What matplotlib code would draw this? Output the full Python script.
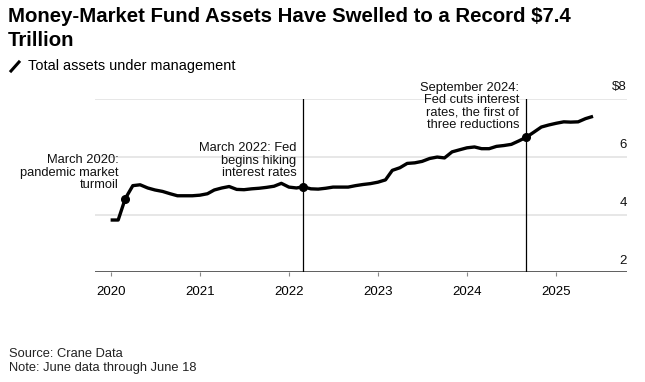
import pandas as pd
import matplotlib.pyplot as plt
from matplotlib.lines import Line2D
import matplotlib.transforms as mtransforms

plt.rcParams['font.family'] = ['Liberation Sans', 'DejaVu Sans']

# monthly money-market fund assets, $ trillion (Jan 2020 - Jun 2025)
months = pd.date_range('2020-01-01', '2025-06-01', freq='MS')
assets = [
    3.81, 3.81, 4.55, 5.00, 5.03, 4.92, 4.85, 4.80, 4.72, 4.65, 4.65, 4.65,
    4.67, 4.72, 4.85, 4.92, 4.97, 4.87, 4.86, 4.89, 4.91, 4.94, 4.98, 5.08,
    4.95, 4.92, 4.96, 4.89, 4.88, 4.91, 4.95, 4.95, 4.95, 5.00, 5.04, 5.07,
    5.12, 5.20, 5.53, 5.62, 5.77, 5.79, 5.84, 5.94, 5.99, 5.96, 6.17, 6.24,
    6.31, 6.34, 6.28, 6.28, 6.36, 6.39, 6.43, 6.55, 6.68, 6.85, 7.03, 7.10,
    7.16, 7.21, 7.20, 7.21, 7.32, 7.40,
]
s = pd.Series(assets, index=months)

events = ['2020-03-01', '2022-03-01', '2024-09-01']
event_labels = [
    'March 2020:\npandemic market\nturmoil',
    'March 2022: Fed\nbegins hiking\ninterest rates',
    'September 2024:\nFed cuts interest\nrates, the first of\nthree reductions',
]
event_lines = [False, True, True]

yticks = [2, 4, 6, 8]
ytick_labels = ['2', '4', '6', '$8']
xyears = [2020, 2021, 2022, 2023, 2024, 2025]

fig = plt.figure(figsize=(6.45, 3.82), dpi=100)
ax = fig.add_axes([0.1473, 0.2872, 0.8247, 0.4536])

ax.set_ylim(2, 8)
ax.set_xlim(pd.Timestamp('2019-10-29'), pd.Timestamp('2025-10-18'))

# gridlines
for v in yticks[1:]:
    ax.axhline(v, color='#e0e0e0', lw=1.1, zorder=0)
ax.axhline(2, color='#333333', lw=1.1, zorder=1)

for sp in ax.spines.values():
    sp.set_visible(False)
ax.set_yticks([])

ax.set_xticks([pd.Timestamp(f'{y}-01-01') for y in xyears])
ax.set_xticklabels([str(y) for y in xyears], fontsize=9.5)
ax.tick_params(axis='x', length=3, color='#888888', pad=7, width=0.8)

ax.plot(s.index, s.values, color='black', lw=2.4, zorder=3, solid_capstyle='butt')

offsets = [(-4.8, 5.5), (-5, 5.5), (-5.2, 4.5)]
for d, lab, vline, off in zip(events, event_labels, event_lines, offsets):
    t = pd.Timestamp(d)
    v = s[t]
    if vline:
        ax.axvline(t, color='black', lw=0.9, zorder=2)
    ax.plot([t], [v], 'o', color='black', ms=5.5, zorder=4)
    ax.annotate(lab, xy=(t, v), xytext=off, textcoords='offset points',
                ha='right', va='bottom', fontsize=9.3, linespacing=1.05,
                color='#111111', annotation_clip=False)

# right-side value labels sitting above gridlines
trans = mtransforms.blended_transform_factory(ax.transAxes, ax.transData)
for v, lab in zip(yticks, ytick_labels):
    ax.text(1.0, v, lab, transform=trans + mtransforms.ScaledTranslation(0, 4 / 72, fig.dpi_scale_trans),
            ha='right', va='bottom', fontsize=9.5, color='#111111', clip_on=False)

fig.text(0.0124, 1 - 21.7 / 382, 'Money-Market Fund Assets Have Swelled to a Record $7.4',
         fontsize=14.7, fontweight='bold', va='baseline', ha='left')
fig.text(0.0124, 1 - 46 / 382, 'Trillion',
         fontsize=14.7, fontweight='bold', va='baseline', ha='left')
fig.add_artist(Line2D([11 / 645, 19 / 645], [1 - 71 / 382, 1 - 62 / 382],
                      color='black', lw=2.2, transform=fig.transFigure))
fig.text(28 / 645, 1 - 70 / 382, 'Total assets under management', fontsize=10.45,
         va='baseline', ha='left')

fig.text(0.0135, 1 - 356.7 / 382, 'Source: Crane Data', fontsize=9.3, va='baseline', color='#222222')
fig.text(0.0135, 1 - 371 / 382, 'Note: June data through June 18', fontsize=9.3, va='baseline', color='#222222')

fig.savefig('out.png', dpi=100)
